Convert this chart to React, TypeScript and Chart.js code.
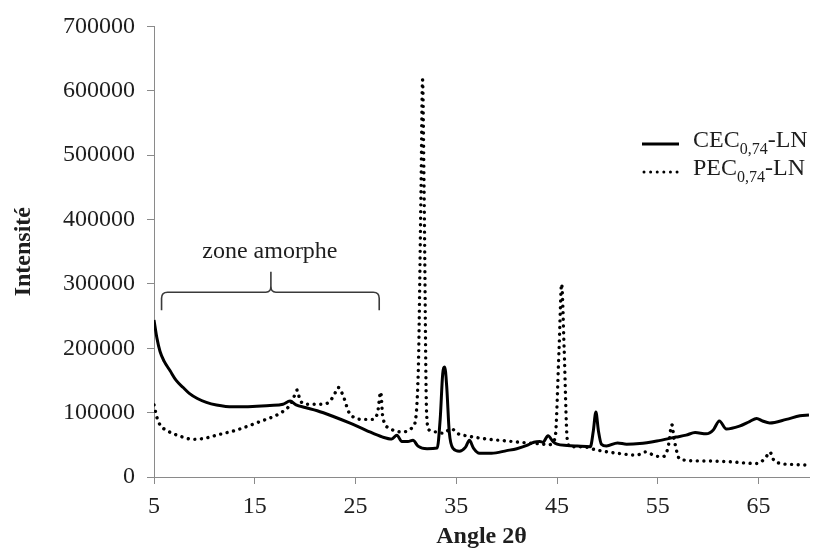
import React, { useEffect, useRef } from "react";
import { Chart, registerables } from "chart.js";

Chart.register(...registerables);

// ---------- data ----------
const xTicks = [5, 15, 25, 35, 45, 55, 65];

const cecAngle = [
  5.0, 5.3, 5.6, 6.0, 6.6, 7.2, 7.9, 8.5, 9.3, 10.2, 11.2, 12.8, 14.0, 15.2, 16.5, 17.8, 18.5, 19.1, 20.0,
  21.2, 22.8, 24.4, 26.0, 27.7, 28.6, 29.1, 29.6, 30.2, 30.7, 31.2, 32.1, 33.1, 33.4, 33.65, 33.85, 34.05,
  34.3, 34.7, 35.3, 35.9, 36.3, 36.7, 37.3, 38.5, 40.0, 41.0, 42.0, 42.7, 43.3, 43.6, 44.1, 44.6, 45.0,
  46.0, 47.0, 48.3, 48.6, 48.85, 49.1, 49.4, 49.9, 51.0, 51.9, 53.2, 54.9, 56.8, 57.8, 58.7, 59.8, 60.5,
  61.1, 61.8, 63.1, 64.1, 64.8, 65.4, 66.1, 67.75, 69.1, 70.0,
];
const cecIntensity = [
  244000, 215000, 195000, 180000, 165000, 150000, 139000, 130000, 122000, 116000, 112000, 109000, 109000,
  110000, 111000, 113000, 118000, 112000, 108000, 103000, 94000, 84000, 73000, 62000, 59000, 65000, 55000,
  55000, 57000, 48000, 44000, 45000, 90000, 160000, 171000, 140000, 70000, 44000, 40000, 46000, 57000,
  45000, 37000, 37000, 41000, 44000, 49000, 54000, 55000, 54000, 64000, 55000, 51000, 49000, 48000, 47000,
  72000, 101000, 72000, 51000, 48000, 53000, 51000, 52000, 56000, 62000, 65000, 69000, 67000, 73000, 87000,
  74500, 79000, 86000, 91000, 87000, 84000, 89500, 95000, 96500,
];

const pecAngle = [
  5.0, 5.3, 5.6, 6.3, 7.3, 8.9, 10.0, 11.2, 13.2, 15.5, 17.5, 18.5, 18.9, 19.2, 19.5, 20.2, 21.2, 22.1,
  22.8, 23.3, 23.8, 24.4, 25.8, 26.7, 27.2, 27.5, 27.7, 28.4, 29.7, 30.7, 31.2, 31.5, 31.65, 31.8, 32.05,
  32.3, 33.0, 33.7, 34.5, 35.2, 36.0, 38.0, 40.0, 42.0, 43.6, 44.1, 44.8, 45.2, 45.45, 45.7, 46.0, 46.3,
  47.6, 48.9, 50.9, 52.9, 53.8, 54.7, 55.5, 56.0, 56.4, 56.6, 57.2, 59.2, 61.8, 64.8, 65.7, 66.1, 66.6,
  68.4, 69.7,
];
const pecIntensity = [
  112000, 92000, 81000, 72000, 65000, 58500, 60000, 65000, 73000, 86000, 99000, 112000, 125000, 135000,
  119000, 113000, 113000, 114000, 125000, 139000, 125000, 99000, 89500, 89500, 101000, 132000, 93500, 75500,
  70000, 78000, 150000, 450000, 617000, 450000, 100000, 73000, 70000, 68000, 75000, 67000, 64000, 59000,
  56000, 53000, 51000, 50000, 60000, 200000, 300000, 200000, 60000, 47000, 47000, 42000, 37000, 34000,
  39000, 33000, 31500, 45000, 81000, 60000, 27500, 25000, 24000, 21000, 30000, 39000, 24000, 19500, 18500,
];

const seriesMain = ["CEC", "PEC"];
const seriesSub = "0,74";
const seriesSuffix = "-LN";

const zoneLabel = "zone amorphe";
const braceStart = 5.75;
const braceEnd = 27.35;
const braceMid = 16.6;
const braceBar = 287000;
const braceFoot = 259000;
const braceTip = 319000;
const zoneLabelY = 340000;

const FONT = "'Liberation Serif', 'Times New Roman', serif";
const TEXT = "#1e1e1e";
const AXIS = "#8a8a8a";

const overlayPlugin = {
  id: "overlay",
  afterDatasetsDraw(chart: any) {
    const ctx = chart.ctx;
    const xs = chart.scales.x;
    const ys = chart.scales.y;
    ctx.save();
    // brace
    const x0 = xs.getPixelForValue(braceStart);
    const x1 = xs.getPixelForValue(braceEnd);
    const xm = xs.getPixelForValue(braceMid);
    const yb = ys.getPixelForValue(braceBar);
    const yf = ys.getPixelForValue(braceFoot);
    const yt = ys.getPixelForValue(braceTip);
    ctx.strokeStyle = "#3a3a3a";
    ctx.lineWidth = 1.6;
    ctx.beginPath();
    ctx.moveTo(x0, yf);
    ctx.lineTo(x0, yb + 6);
    ctx.quadraticCurveTo(x0, yb, x0 + 6, yb);
    ctx.lineTo(xm - 5, yb);
    ctx.quadraticCurveTo(xm, yb, xm, yb - 6);
    ctx.lineTo(xm, yt);
    ctx.moveTo(xm, yb - 6);
    ctx.quadraticCurveTo(xm, yb, xm + 5, yb);
    ctx.lineTo(x1 - 6, yb);
    ctx.quadraticCurveTo(x1, yb, x1, yb + 6);
    ctx.lineTo(x1, yf);
    ctx.stroke();

    ctx.fillStyle = TEXT;
    ctx.font = `24px ${FONT}`;
    ctx.textAlign = "center";
    ctx.textBaseline = "alphabetic";
    ctx.fillText(zoneLabel, xs.getPixelForValue(braceMid) - 1, ys.getPixelForValue(zoneLabelY));

    // legend
    const lx0 = 642;
    const lx1 = 679;
    const rows = [144, 172];
    rows.forEach((ly, i) => {
      ctx.strokeStyle = "#000";
      ctx.lineWidth = 3;
      ctx.beginPath();
      if (i === 0) {
        ctx.setLineDash([]);
        ctx.lineCap = "butt";
      } else {
        ctx.setLineDash([0.01, 6.6]);
        ctx.lineCap = "round";
      }
      ctx.moveTo(lx0 + (i ? 2 : 0), ly);
      ctx.lineTo(lx1, ly);
      ctx.stroke();
      ctx.setLineDash([]);
      ctx.textAlign = "left";
      ctx.fillStyle = TEXT;
      let tx = 693;
      const base = ly + 3;
      ctx.font = `24px ${FONT}`;
      ctx.fillText(seriesMain[i], tx, base);
      tx += ctx.measureText(seriesMain[i]).width;
      ctx.font = `16px ${FONT}`;
      ctx.fillText(seriesSub, tx, base + 7);
      tx += ctx.measureText(seriesSub).width;
      ctx.font = `24px ${FONT}`;
      ctx.fillText(seriesSuffix, tx, base);
    });
    ctx.restore();
  },
};

export default function App() {
  const ref = useRef<HTMLCanvasElement | null>(null);
  useEffect(() => {
    document.body.style.margin = "0";
    const canvas = ref.current;
    if (!canvas) return;
    const chart = new Chart(canvas, {
      type: "line",
      data: {
        datasets: [
          {
            label: "CEC0,74-LN",
            data: cecAngle.map((x, i) => ({ x, y: cecIntensity[i] })),
            borderColor: "#000",
            borderWidth: 3,
            pointRadius: 0,
            cubicInterpolationMode: "monotone",
            borderJoinStyle: "round",
            fill: false,
          },
          {
            label: "PEC0,74-LN",
            data: pecAngle.map((x, i) => ({ x, y: pecIntensity[i] })),
            borderColor: "#000",
            borderWidth: 3.4,
            borderDash: [0.01, 6.6],
            borderCapStyle: "round",
            pointRadius: 0,
            cubicInterpolationMode: "monotone",
            fill: false,
          },
        ],
      },
      options: {
        responsive: false,
        animation: false,
        devicePixelRatio: 1,
        layout: { padding: { top: 26, right: 5, left: 0, bottom: 0 } },
        plugins: { legend: { display: false }, tooltip: { enabled: false } },
        scales: {
          x: {
            type: "linear",
            min: 5,
            max: 70,
            afterBuildTicks: (s: any) => {
              s.ticks = xTicks.map((v) => ({ value: v }));
            },
            afterFit: (s: any) => {
              s.height = 74;
            },
            grid: { display: true, drawOnChartArea: false, drawTicks: true, tickLength: 7, color: AXIS, lineWidth: 1 },
            border: { display: true, color: AXIS, width: 1 },
            ticks: {
              color: TEXT,
              font: { family: FONT, size: 24 },
              padding: 8,
              maxRotation: 0,
              callback: (v: any) => String(v),
            },
            title: {
              display: true,
              text: "Angle 2θ",
              color: TEXT,
              font: { family: FONT, size: 24, weight: "bold" },
              padding: { top: 0, bottom: 0 },
            },
          },
          y: {
            min: 0,
            max: 700000,
            afterFit: (s: any) => {
              s.width = 154;
            },
            grid: { display: true, drawOnChartArea: false, drawTicks: true, tickLength: 7, color: AXIS, lineWidth: 1 },
            border: { display: true, color: AXIS, width: 1 },
            ticks: {
              stepSize: 100000,
              color: TEXT,
              font: { family: FONT, size: 24 },
              padding: 12,
              callback: (v: any) => String(v),
            },
            title: {
              display: true,
              text: "Intensité",
              color: TEXT,
              font: { family: FONT, size: 24, weight: "bold" },
              padding: { top: 9, bottom: 0 },
            },
          },
        },
      },
      plugins: [overlayPlugin],
    } as any);
    return () => chart.destroy();
  }, []);
  return (
    <div style={{ position: "relative", width: 814, height: 551, background: "#fff" }}>
      <canvas ref={ref} width={814} height={551} style={{ display: "block", width: 814, height: 551 }} />
    </div>
  );
}
